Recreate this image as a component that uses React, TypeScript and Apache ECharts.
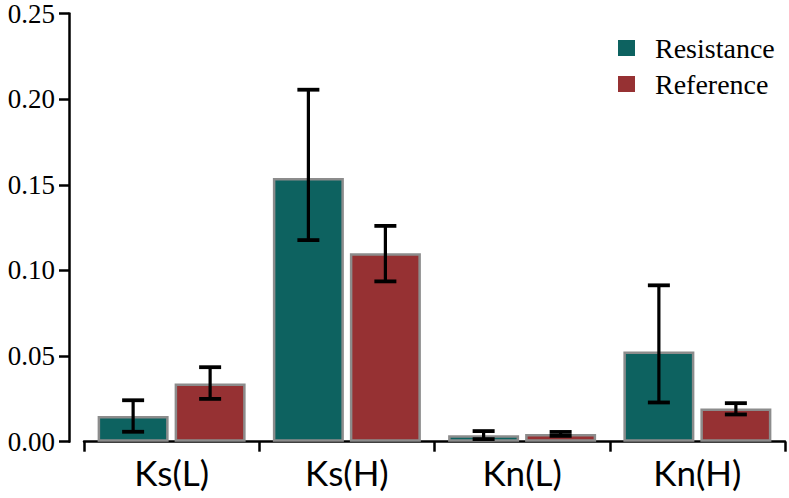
import React, { useEffect, useRef } from "react";
import * as echarts from "echarts";

const categories = ["Ks(L)", "Ks(H)", "Kn(L)", "Kn(H)"];

const resistance = [0.015, 0.154, 0.0038, 0.0527];
const resistanceHigh = [0.0242, 0.2055, 0.0062, 0.0913];
const resistanceLow = [0.0058, 0.1177, 0.0015, 0.0229];

const reference = [0.034, 0.11, 0.0045, 0.0194];
const referenceHigh = [0.0435, 0.126, 0.0057, 0.0225];
const referenceLow = [0.025, 0.0936, 0.0034, 0.0159];

const TEAL = "#0d6260";
const RED = "#963133";
const BAR_W = 71;
const BAR_GAP = 6;

function errorSeries(name: string, lows: number[], highs: number[], sign: number) {
  const offset = sign * (BAR_W / 2 + BAR_GAP / 2);
  return {
    name: name + " error",
    type: "custom",
    z: 5,
    silent: true,
    encode: { x: 0, y: [1, 2] },
    data: categories.map((_, i) => [i, lows[i], highs[i]]),
    renderItem: (params: any, api: any) => {
      const i = api.value(0);
      const lo = api.coord([i, api.value(1)]);
      const hi = api.coord([i, api.value(2)]);
      const x = lo[0] + offset;
      const cap = 11;
      return {
        type: "group",
        children: [
          { type: "line", shape: { x1: x, y1: lo[1], x2: x, y2: hi[1] }, style: { stroke: "#000", lineWidth: 3.2 } },
          { type: "line", shape: { x1: x - cap, y1: hi[1], x2: x + cap, y2: hi[1] }, style: { stroke: "#000", lineWidth: 3.8 } },
          { type: "line", shape: { x1: x - cap, y1: lo[1], x2: x + cap, y2: lo[1] }, style: { stroke: "#000", lineWidth: 3.8 } },
        ],
      };
    },
  };
}

export default function App() {
  const ref = useRef<HTMLDivElement>(null);
  useEffect(() => {
    if (!ref.current) return;
    const chart = echarts.init(ref.current, null, { renderer: "svg" });
    chart.setOption({
      animation: false,
      backgroundColor: "#fff",
      grid: { left: 84, right: 4, top: 11.7, bottom: 56.3, containLabel: false },
      legend: {
        orient: "vertical",
        left: 618,
        top: 34,
        padding: 0,
        itemWidth: 17,
        itemHeight: 16,
        itemGap: 8,
        icon: "rect",
        data: ["Resistance", "Reference"],
        itemStyle: { borderWidth: 0 },
        textStyle: {
          fontFamily: "Liberation Serif",
          fontSize: 28,
          color: "#000",
          padding: [0, 0, 0, 15],
        },
      },
      xAxis: {
        type: "category",
        data: categories,
        boundaryGap: true,
        axisLine: { show: true, lineStyle: { color: "#000", width: 2.5 } },
        axisTick: { show: true, alignWithLabel: false, length: 10, lineStyle: { color: "#000", width: 2.5 } },
        axisLabel: {
          fontFamily: "Lato",
          fontSize: 35,
          color: "#000",
          margin: 13,
        },
        splitLine: { show: false },
      },
      yAxis: {
        type: "value",
        min: 0,
        max: 0.25,
        interval: 0.05,
        offset: 15,
        axisLine: { show: true, lineStyle: { color: "#000", width: 2.5 } },
        axisTick: { show: true, length: 10, lineStyle: { color: "#000", width: 2.5 } },
        axisLabel: {
          fontFamily: "Liberation Serif",
          fontSize: 27,
          color: "#000",
          margin: 14,
          formatter: (v: number) => v.toFixed(2),
        },
        splitLine: { show: false },
      },
      series: [
        {
          name: "Resistance",
          type: "bar",
          data: resistance,
          barWidth: BAR_W,
          barGap: (BAR_GAP / BAR_W) * 100 + "%",
          itemStyle: { color: TEAL, borderColor: "#8c8c8c", borderWidth: 2.5 },
        },
        {
          name: "Reference",
          type: "bar",
          data: reference,
          barWidth: BAR_W,
          barGap: (BAR_GAP / BAR_W) * 100 + "%",
          itemStyle: { color: RED, borderColor: "#8c8c8c", borderWidth: 2.5 },
        },
        errorSeries("Resistance", resistanceLow, resistanceHigh, -1),
        errorSeries("Reference", referenceLow, referenceHigh, 1),
      ],
    });
    return () => chart.dispose();
  }, []);
  return <div ref={ref} style={{ width: 789, height: 498, position: "absolute", left: 0, top: 0 }} />;
}
